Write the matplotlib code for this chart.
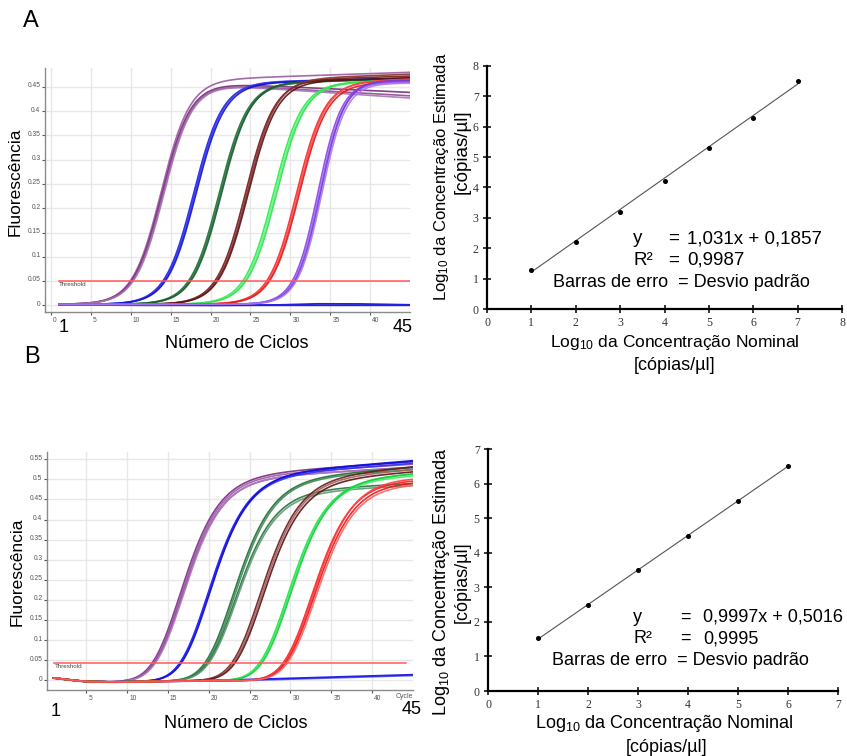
import numpy as np
import matplotlib
matplotlib.use("Agg")
import matplotlib.pyplot as plt
from matplotlib.transforms import ScaledTranslation

W, H = 847, 756
plt.rcParams['font.family'] = ['Liberation Sans', 'DejaVu Sans']
plt.rcParams['mathtext.fontset'] = 'custom'
plt.rcParams['mathtext.rm'] = 'Liberation Sans'
plt.rcParams['mathtext.it'] = 'Liberation Sans:italic'
plt.rcParams['mathtext.bf'] = 'Liberation Sans:bold'

# ------------------------------------------------------------------ data
# Panel A – amplification curves (threshold cycle, plateau, late drift per replicate)
A_threshold = 0.05
A_ct = [[10.0, 10.15, 10.3, 10.4],
        [14.1, 14.25, 14.4],
        [17.3, 17.45, 17.6],
        [20.6, 20.8, 20.95],
        [24.1, 24.3, 24.5],
        [27.1, 27.3, 27.45],
        [30.3, 30.5, 30.65, 30.8]]
A_plateau = [[0.461, 0.460, 0.459, 0.459],
             [0.455, 0.457, 0.453],
             [0.455, 0.453, 0.457],
             [0.460, 0.462, 0.458],
             [0.455, 0.453, 0.456],
             [0.455, 0.457, 0.453],
             [0.460, 0.458, 0.462, 0.456]]
A_drift = [[0.00055, -0.00075, -0.00095, -0.0011],
           [0.0004, 0.0003, 0.0005],
           [0.0004, 0.0005, 0.0003],
           [0.0005, 0.0006, 0.0004],
           [0.0004, 0.0005, 0.0003],
           [0.0006, 0.0005, 0.0004],
           [0.0, 0.0, 0.0, 0.0]]
A_steep = [1.8, 1.8, 1.8, 1.8, 1.8, 1.75, 1.5]
A_ntc_cycles = [1, 10, 20, 28, 33, 38, 45]
A_ntc_values = [0.002, 0.001, 0.000, 0.0005, 0.003, 0.003, 0.001]
A_ntc2_values = [0.001, 0.000, 0.000, 0.000, 0.000, 0.000, 0.000]

# Panel B – amplification curves
B_threshold = 0.044
B_ct = [[13.0, 13.15, 13.3, 13.4],
        [16.4, 16.5, 16.6],
        [19.5, 19.7, 19.85, 20.0],
        [22.8, 23.0, 23.2],
        [26.2, 26.35, 26.5],
        [29.1, 29.25, 29.4, 29.6]]
B_plateau = [[0.500, 0.497, 0.493, 0.495],
             [0.500, 0.498, 0.502],
             [0.490, 0.490, 0.465, 0.460],
             [0.490, 0.490, 0.485],
             [0.490, 0.488, 0.492],
             [0.500, 0.505, 0.495, 0.490]]
B_drift = [[0.0014, 0.0013, 0.0012, 0.0011],
           [0.0016, 0.0015, 0.0016],
           [0.0016, 0.0014, 0.0010, 0.0010],
           [0.0019, 0.0016, 0.0016],
           [0.0013, 0.0012, 0.0013],
           [0.0, 0.0, 0.0, 0.0]]
B_steep = [2.6, 2.6, 2.6, 2.6, 2.6, 2.65]
B_base_cycles = [1, 3, 5, 8, 12, 20, 45]
B_base_values = [0.006, 0.001, -0.003, -0.004, -0.003, -0.001, 0.0]
B_ntc_cycles = [1, 5, 8, 15, 25, 35, 45]
B_ntc_values = [0.006, -0.003, -0.004, -0.002, 0.002, 0.008, 0.014]
B_ntc2_values = [0.005, -0.004, -0.005, -0.003, 0.000, 0.006, 0.012]

# Standard curves
C_nominal = [1, 2, 3, 4, 5, 6, 7]
C_estimated = [1.27, 2.20, 3.19, 4.22, 5.30, 6.29, 7.49]
C_slope, C_intercept, C_r2 = 1.031, 0.1857, 0.9987
D_nominal = [1, 2, 3, 4, 5, 6]
D_estimated = [1.52, 2.48, 3.49, 4.48, 5.49, 6.51]
D_slope, D_intercept, D_r2 = 0.9997, 0.5016, 0.9995

# ------------------------------------------------------------------ styles
A_colors = [["#9b5aa3", "#7a2a7c", "#8e4a92", "#a576b0"],
            ["#1a1ae6", "#3a3af0", "#1010d0"],
            ["#1e6b35", "#2f7d48", "#195c2d"],
            ["#6e1a1a", "#8a3030", "#5a1010"],
            ["#22ee44", "#6ef08a", "#30e050"],
            ["#f02828", "#ff4a4a", "#e01818"],
            ["#8844e8", "#9a60f0", "#7a38d8", "#a47af0"]]
B_colors = [["#7b2a83", "#9a5aa6", "#8a3c90", "#b07cc0"],
            ["#1515ee", "#3030f0", "#1010d8"],
            ["#1e6b35", "#3c8a55", "#2a7040", "#5a9a70"],
            ["#6b1a1a", "#a06060", "#5a1212"],
            ["#22e04a", "#40ee66", "#18d040"],
            ["#f52020", "#ff4040", "#e81818", "#ff6060"]]


def richards(c, ct, P, d, k, s, thr):
    ut = -np.log((thr / P) ** (-1.0 / s) - 1.0)
    c0 = ct - k * ut
    f = (1.0 + np.exp(-(c - c0) / k)) ** (-s)
    return f * (P + d * (c - c0))


fig = plt.figure(figsize=(W / 100, H / 100), dpi=100)


def T(x, y, s, **kw):
    kw.setdefault('ha', 'center')
    kw.setdefault('va', 'center')
    return fig.text(x / W, 1 - y / H, s, **kw)


def amp_axes(rect, xlim, ylim, yticks, ylabels, xticks):
    ax = fig.add_axes(rect)
    ax.set_xlim(*xlim)
    ax.set_ylim(*ylim)
    for s in ['top', 'right']:
        ax.spines[s].set_visible(False)
    for s in ['left', 'bottom']:
        ax.spines[s].set_color('#8a8a8a')
        ax.spines[s].set_linewidth(1.0)
    ax.set_yticks(yticks)
    ax.set_yticklabels(ylabels)
    ax.set_xticks(xticks)
    ax.set_xticklabels([str(t) for t in xticks])
    ax.tick_params(axis='both', labelsize=4.8, colors='#555555', length=2.5,
                   width=0.8, pad=1.2)
    ax.tick_params(axis='y', pad=0.8)
    for lab in ax.get_xticklabels():
        lab.set_horizontalalignment('left')
        lab.set_transform(lab.get_transform() + ScaledTranslation(1.5 / 72, 0, fig.dpi_scale_trans))
    for lab in ax.get_yticklabels():
        lab.set_transform(lab.get_transform() + ScaledTranslation(0, 1.5 / 72, fig.dpi_scale_trans))
    for t in yticks:
        ax.axhline(t, color='#e8e8e8', lw=1.0, zorder=0)
    for t in xticks:
        ax.axvline(t, color='#e8e8e8', lw=1.0, zorder=0)
    return ax


cyc = np.linspace(1, 45, 441)

# ---------------- Panel A (top-left)
axA = amp_axes([45 / W, 1 - 312 / H, 365 / W, 244 / H], (-0.75, 45), (-0.0138, 0.489),
               [0, 0.05, 0.1, 0.15, 0.2, 0.25, 0.3, 0.35, 0.4, 0.45],
               ['0', '0.05', '0.1', '0.15', '0.2', '0.25', '0.3', '0.35', '0.4', '0.45'],
               [0, 5, 10, 15, 20, 25, 30, 35, 40])
axA.plot(cyc, np.interp(cyc, A_ntc_cycles, A_ntc2_values), color='#3a2a80', lw=1.3, zorder=2)
axA.plot(cyc, np.interp(cyc, A_ntc_cycles, A_ntc_values), color='#2020e8', lw=1.3, zorder=2)
for g in range(len(A_ct)):
    for r in range(len(A_ct[g])):
        y = 0.002 + richards(cyc, A_ct[g][r], A_plateau[g][r], A_drift[g][r],
                             A_steep[g], 1.0, A_threshold)
        axA.plot(cyc, y, color=A_colors[g][r], lw=1.2, alpha=0.9, zorder=3)
axA.plot([1, 45], [A_threshold, A_threshold], color='#ff5a5a', lw=1.1, zorder=4)
axA.text(1.0, 0.043, 'Threshold', fontsize=4.5, color='#444444', va='center', ha='left')

# ---------------- Panel B (bottom-left)
axB = amp_axes([47 / W, 1 - 690 / H, 366 / W, 238 / H], (0.2, 45), (-0.024, 0.568),
               [0, 0.05, 0.1, 0.15, 0.2, 0.25, 0.3, 0.35, 0.4, 0.45, 0.5, 0.55],
               ['0', '0.05', '0.1', '0.15', '0.2', '0.25', '0.3', '0.35', '0.4', '0.45', '0.5', '0.55'],
               [5, 10, 15, 20, 25, 30, 35, 40])
axB.text(44.0, -0.004, 'Cycle', fontsize=5, color='#555555', ha='center', va='top',
         transform=axB.get_xaxis_transform() + ScaledTranslation(0, -1.5 / 72, fig.dpi_scale_trans))
baseB = np.interp(cyc, B_base_cycles, B_base_values)
axB.plot(cyc, np.interp(cyc, B_ntc_cycles, B_ntc2_values), color='#6a6af0', lw=1.3, zorder=2)
axB.plot(cyc, np.interp(cyc, B_ntc_cycles, B_ntc_values), color='#2020e8', lw=1.3, zorder=2)
for g in range(len(B_ct)):
    for r in range(len(B_ct[g])):
        y = baseB + richards(cyc, B_ct[g][r], B_plateau[g][r], B_drift[g][r],
                             B_steep[g], 3.0, B_threshold)
        axB.plot(cyc, y, color=B_colors[g][r], lw=1.2, alpha=0.9, zorder=3)
axB.plot([1, 44.2], [B_threshold, B_threshold], color='#ff5a5a', lw=1.1, zorder=4)
axB.text(1.2, 0.034, 'Threshold', fontsize=4.5, color='#444444', va='center', ha='left')


# ---------------- standard curves
def std_axes(rect, n):
    ax = fig.add_axes(rect)
    ax.set_xlim(0, n)
    ax.set_ylim(0, n)
    for s in ['top', 'right']:
        ax.spines[s].set_visible(False)
    for s in ['left', 'bottom']:
        ax.spines[s].set_linewidth(1.6)
        ax.spines[s].set_color('black')
    ax.set_xticks(range(n + 1))
    ax.set_yticks(range(n + 1))
    ax.tick_params(direction='inout', length=6, width=1.1, labelsize=8.5,
                   labelcolor='#333333', pad=3)
    for lab in ax.get_xticklabels() + ax.get_yticklabels():
        lab.set_family('Liberation Serif')
    return ax


axC = std_axes([487 / W, 1 - 309 / H, 355 / W, 243 / H], 8)
xs = np.array([C_nominal[0], C_nominal[-1]])
axC.plot(xs, C_slope * xs + C_intercept, color='#555555', lw=0.8)
axC.plot(C_nominal, C_estimated, 'o', color='black', ms=2.6, clip_on=False)

axD = std_axes([488 / W, 1 - 691 / H, 350 / W, 242 / H], 7)
xs = np.array([D_nominal[0], D_nominal[-1]])
axD.plot(xs, D_slope * xs + D_intercept, color='#555555', lw=0.8)
axD.plot(D_nominal, D_estimated, 'o', color='black', ms=2.6, clip_on=False)

# ---------------- texts
T(31, 21, 'A', fontsize=17)
T(32, 357, 'B', fontsize=17)

T(15, 182, 'Fluorescência', fontsize=12.5, rotation=90)
T(237, 343, 'Número de Ciclos', fontsize=13)
T(64, 328, '1', fontsize=13)
T(403, 328, '45', fontsize=13)

T(17, 572, 'Fluorescência', fontsize=12.5, rotation=90)
T(236, 723, 'Número de Ciclos', fontsize=13)
T(56, 711, '1', fontsize=13)
T(412, 710, '45', fontsize=13)

# top-right labels
T(441, 177, 'Log$_{\\mathregular{10}}$ da Concentração Estimada', fontsize=12, rotation=90)
T(462, 152, '[cópias/µl]', fontsize=13.5, rotation=90)
T(675, 343, 'Log$_{\\mathregular{10}}$ da Concentração Nominal', fontsize=12.5)
T(675, 365, '[cópias/µl]', fontsize=13)
T(633, 243, 'y', fontsize=13.5, ha='left', va='baseline')
T(668, 243, '=', fontsize=13.5, ha='left', va='baseline')
T(687, 243, f'{C_slope:.3f}x + {C_intercept:.4f}'.replace('.', ','), fontsize=13.5, ha='left', va='baseline')
T(633, 265, 'R²', fontsize=13.5, ha='left', va='baseline')
T(668, 265, '=', fontsize=13.5, ha='left', va='baseline')
T(687, 265, f'{C_r2:.4f}'.replace('.', ','), fontsize=13.5, ha='left', va='baseline')
T(553, 287, 'Barras de erro  = Desvio padrão', fontsize=13, ha='left', va='baseline')

# bottom-right labels
T(441, 582, 'Log$_{\\mathregular{10}}$ da Concentração Estimada', fontsize=13, rotation=90)
T(462, 582, '[cópias/µl]', fontsize=13, rotation=90)
T(664, 723, 'Log$_{\\mathregular{10}}$ da Concentração Nominal', fontsize=13)
T(667, 747, '[cópias/µl]', fontsize=13)
T(633, 622, 'y', fontsize=13, ha='left', va='baseline')
T(680, 622, '=', fontsize=13, ha='left', va='baseline')
T(703, 622, f'{D_slope:.4f}x + {D_intercept:.4f}'.replace('.', ','), fontsize=13, ha='left', va='baseline')
T(633, 643, 'R²', fontsize=13, ha='left', va='baseline')
T(680, 643, '=', fontsize=13, ha='left', va='baseline')
T(703, 643, f'{D_r2:.4f}'.replace('.', ','), fontsize=13, ha='left', va='baseline')
T(552, 665, 'Barras de erro  = Desvio padrão', fontsize=13, ha='left', va='baseline')

fig.savefig('out.png', dpi=100)
